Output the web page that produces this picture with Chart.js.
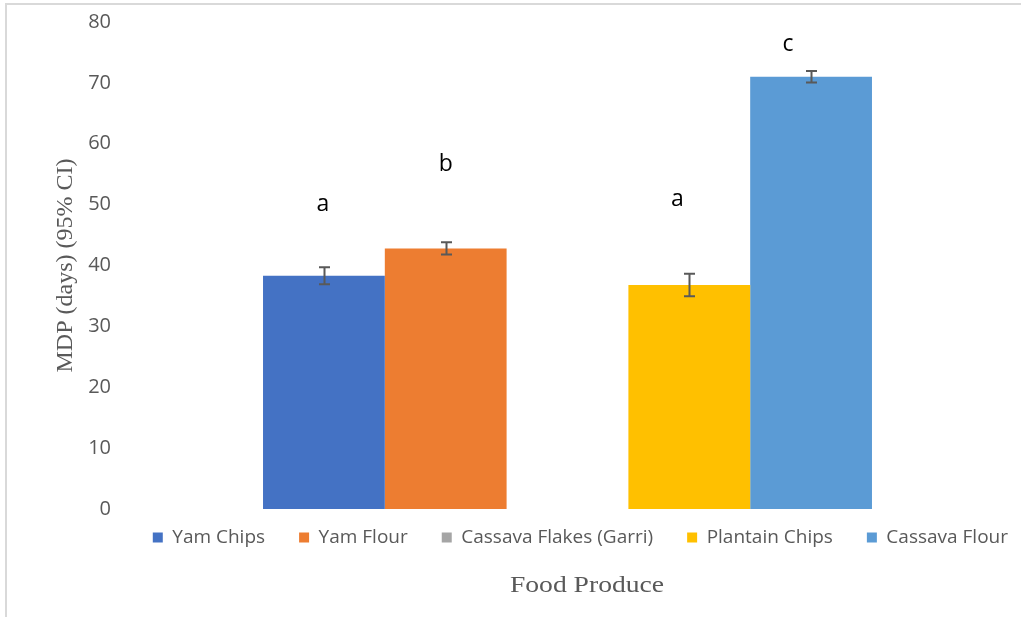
<!DOCTYPE html>
<html>
<head>
<meta charset="utf-8">
<title>MDP by food produce</title>
<script src="https://cdn.jsdelivr.net/npm/chart.js@4.4.1/dist/chart.umd.min.js"></script>
<style>
  html, body { margin: 0; padding: 0; background: #ffffff; }
  #wrap { position: relative; width: 1021px; height: 617px; }
</style>
</head>
<body>
<div id="wrap"><canvas id="chart" width="1021" height="617"></canvas></div>
<script>
// Mean days (MDP) for each food produce, with 95% CI half-widths
const categories = [''];
const seriesNames = ['Yam Chips', 'Yam Flour', 'Cassava Flakes (Garri)', 'Plantain Chips', 'Cassava Flour'];
const meanDays = [38.3, 42.8, null, 36.8, 71.0];
const ciHalfWidth = [1.4, 1.0, null, 1.85, 0.95];
// significance group letters and the level (days) they sit at
const groupLetters = ['a', 'b', '', 'a', 'c'];
const letterLevels = [48.9, 55.5, null, 49.8, 75.2];
const yTicks = [0, 10, 20, 30, 40, 50, 60, 70, 80];

const seriesColors = ['#4472C4', '#ED7D31', '#A5A5A5', '#FFC000', '#5B9BD5'];
const GREY = '#595959';

// light frame around the whole chart
const framePlugin = {
  id: 'frame',
  beforeDraw(chart) {
    const ctx = chart.ctx;
    ctx.save();
    ctx.strokeStyle = '#D9D9D9';
    ctx.lineWidth = 2;
    ctx.strokeRect(6, 4, 1100, 700);
    ctx.restore();
  }
};

// nudge the legend row into place under the plot
const legendShiftPlugin = {
  id: 'legendShift',
  afterLayout(chart, args, opts) {
    const lg = chart.legend;
    if (!lg) return;
    lg.left += opts.dx; lg.right += opts.dx;
    lg.top += opts.dy; lg.bottom += opts.dy;
  }
};

// 95% CI whiskers on top of every bar
const errorBarPlugin = {
  id: 'errorBars',
  afterDatasetsDraw(chart) {
    const ctx = chart.ctx;
    const y = chart.scales.y;
    ctx.save();
    ctx.strokeStyle = GREY;
    ctx.lineWidth = 2;
    chart.data.datasets.forEach((ds, i) => {
      const v = meanDays[i], e = ciHalfWidth[i];
      if (v == null || e == null) return;
      const bar = chart.getDatasetMeta(i).data[0];
      const x = Math.round(bar.x) + 0.5;
      const yHi = y.getPixelForValue(v + e);
      const yLo = y.getPixelForValue(v - e);
      const cap = 5.5;
      ctx.beginPath();
      ctx.moveTo(x, yHi); ctx.lineTo(x, yLo);
      ctx.moveTo(x - cap, yHi); ctx.lineTo(x + cap, yHi);
      ctx.moveTo(x - cap, yLo); ctx.lineTo(x + cap, yLo);
      ctx.stroke();
    });
    ctx.restore();
  }
};

// group letters above the bars, and the category axis title
const annotatePlugin = {
  id: 'annotate',
  afterDraw(chart, args, opts) {
    const ctx = chart.ctx;
    const y = chart.scales.y;
    ctx.save();
    ctx.fillStyle = '#000000';
    ctx.font = '23px "Open Sans", sans-serif';
    ctx.textAlign = 'center';
    ctx.textBaseline = 'alphabetic';
    groupLetters.forEach((t, i) => {
      if (!t || letterLevels[i] == null) return;
      const bar = chart.getDatasetMeta(i).data[0];
      ctx.fillText(t, bar.x + opts.letterShift[i], y.getPixelForValue(letterLevels[i]));
    });
    // x-axis title
    ctx.fillStyle = GREY;
    ctx.font = '24px "Liberation Serif", "Times New Roman", serif';
    ctx.textBaseline = 'middle';
    ctx.translate(opts.xTitleX, opts.xTitleY);
    ctx.scale(1.15, 1);
    ctx.fillText('Food Produce', 0, 0);
    ctx.restore();
  }
};

new Chart(document.getElementById('chart'), {
  type: 'bar',
  data: {
    labels: categories,
    datasets: seriesNames.map((name, i) => ({
      label: name,
      data: [meanDays[i]],
      backgroundColor: seriesColors[i],
      borderWidth: 0
    }))
  },
  plugins: [framePlugin, legendShiftPlugin, errorBarPlugin, annotatePlugin],
  options: {
    responsive: false,
    animation: false,
    devicePixelRatio: 1,
    layout: { padding: { left: 0, right: 6, top: 22, bottom: 45 } },
    datasets: { bar: { categoryPercentage: 0.6804, barPercentage: 1.0 } },
    scales: {
      x: {
        grid: { display: false, drawTicks: false },
        border: { display: false },
        ticks: { display: false }
      },
      y: {
        min: 0,
        max: 80,
        afterBuildTicks(scale) { scale.ticks = yTicks.map(v => ({ value: v })); },
        afterFit(scale) { scale.width = 120; },
        grid: { display: false, drawTicks: false },
        border: { display: false },
        ticks: {
          color: GREY,
          padding: 9,
          font: { family: '"Open Sans", sans-serif', size: 20 }
        },
        title: {
          display: true,
          text: 'MDP (days) (95% CI)',
          color: GREY,
          font: { family: '"Liberation Serif", "Times New Roman", serif', size: 24 },
          padding: { top: 51, bottom: 0 }
        }
      }
    },
    plugins: {
      tooltip: { enabled: false },
      legend: {
        position: 'bottom',
        fullSize: true,
        align: 'end',
        labels: {
          color: GREY,
          boxWidth: 10,
          boxHeight: 10,
          padding: 34,
          font: { family: '"Open Sans", sans-serif', size: 19 }
        }
      },
      legendShift: { dx: 27, dy: -15 },
      annotate: {
        letterShift: [-1, 0, 0, -12, -23],
        xTitleX: 587,
        xTitleY: 586
      }
    }
  }
});
</script>
</body>
</html>
